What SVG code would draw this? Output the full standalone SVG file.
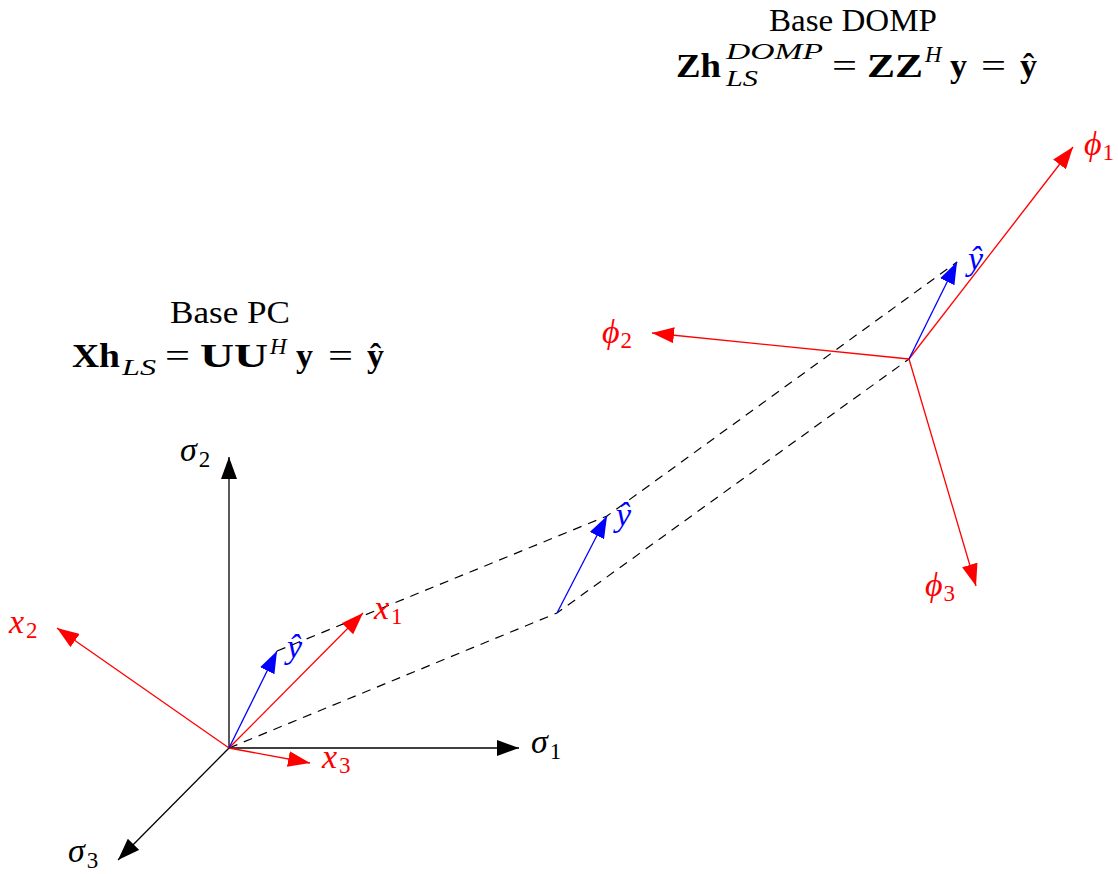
<svg xmlns="http://www.w3.org/2000/svg" width="1118" height="874" viewBox="0 0 1118 874">
<defs>
<style>
.t{font-family:"Liberation Serif","DejaVu Serif",serif;font-size:31px}
.e{font-family:"Liberation Serif","DejaVu Serif",serif;font-size:34px}
.b{font-family:"Liberation Serif","DejaVu Serif",serif;font-size:34px;font-weight:bold}
.i{font-family:"Liberation Serif","DejaVu Serif",serif;font-size:34px;font-style:italic}
.s{font-size:23px;font-style:normal}
.si{font-family:"Liberation Serif","DejaVu Serif",serif;font-size:23px;font-style:italic}
.k{stroke:#000;stroke-width:1.3;fill:none}
.r{stroke:#ff0000;stroke-width:1.3;fill:none}
.u{stroke:#0000ff;stroke-width:1.3;fill:none}
.d{stroke:#000;stroke-width:1.2;fill:none;stroke-dasharray:9 7}
.red{fill:#ff0000}
.blue{fill:#0000ff}
</style>
<marker id="ak" markerUnits="userSpaceOnUse" markerWidth="22" markerHeight="16" refX="22" refY="8" orient="auto"><path d="M0,0 L22,8 L0,16z" fill="#000"/></marker>
<marker id="ar" markerUnits="userSpaceOnUse" markerWidth="22" markerHeight="16" refX="22" refY="8" orient="auto"><path d="M0,0 L22,8 L0,16z" fill="#ff0000"/></marker>
<marker id="au" markerUnits="userSpaceOnUse" markerWidth="22" markerHeight="16" refX="22" refY="8" orient="auto"><path d="M0,0 L22,8 L0,16z" fill="#0000ff"/></marker>
</defs>
<rect width="1118" height="874" fill="#fff"/>

<g id="connectors">
<polyline class="d" points="277,651 607,516 957,262"/>
<polyline class="d" points="229,748 557,613 909,359"/>
</g>

<g id="pc-frame">
<line class="k" x1="229" y1="748" x2="519" y2="748" marker-end="url(#ak)"/>
<line class="k" x1="229" y1="748" x2="229" y2="457" marker-end="url(#ak)"/>
<line class="k" x1="229" y1="748" x2="118" y2="860" marker-end="url(#ak)"/>
<line class="r" x1="229" y1="748" x2="363" y2="613" marker-end="url(#ar)"/>
<line class="r" x1="229" y1="748" x2="57" y2="628" marker-end="url(#ar)"/>
<line class="r" x1="229" y1="748" x2="310" y2="763" marker-end="url(#ar)"/>
<line class="u" x1="229" y1="748" x2="277" y2="651" marker-end="url(#au)"/>
<text class="i" x="531" y="753">σ<tspan class="s" dx="2" dy="6">1</tspan></text>
<text class="i" x="180" y="461">σ<tspan class="s" dx="2" dy="6">2</tspan></text>
<text class="i" x="68" y="862">σ<tspan class="s" dx="2" dy="6">3</tspan></text>
<text class="i red" x="374" y="619">x<tspan class="s" dx="2" dy="5">1</tspan></text>
<text class="i red" x="9" y="633">x<tspan class="s" dx="2" dy="5">2</tspan></text>
<text class="i red" x="322" y="768">x<tspan class="s" dx="2" dy="5">3</tspan></text>
<text class="i blue" x="287" y="658">ŷ</text>
</g>

<g id="mid-yhat">
<line class="u" x1="557" y1="613" x2="607" y2="516" marker-end="url(#au)"/>
<text class="i blue" x="616" y="526">ŷ</text>
</g>

<g id="domp-frame">
<line class="r" x1="909" y1="359" x2="1073" y2="147" marker-end="url(#ar)"/>
<line class="r" x1="909" y1="359" x2="652" y2="333" marker-end="url(#ar)"/>
<line class="r" x1="909" y1="359" x2="976" y2="586" marker-end="url(#ar)"/>
<line class="u" x1="909" y1="359" x2="957" y2="262" marker-end="url(#au)"/>
<text class="i red" x="1084" y="155">ϕ<tspan class="s" dx="1" dy="5">1</tspan></text>
<text class="i red" x="602" y="343">ϕ<tspan class="s" dx="1" dy="5">2</tspan></text>
<text class="i red" x="925" y="596">ϕ<tspan class="s" dx="1" dy="5">3</tspan></text>
<text class="i blue" x="968" y="270">ŷ</text>
</g>

<g id="title-pc">
<text class="t" x="170" y="323" textLength="120" lengthAdjust="spacingAndGlyphs">Base PC</text>
<text class="b" x="72" y="367" textLength="48" lengthAdjust="spacingAndGlyphs">Xh</text>
<text class="si" x="122" y="375" textLength="34" lengthAdjust="spacingAndGlyphs">LS</text>
<text class="e" x="165" y="367" textLength="25" lengthAdjust="spacingAndGlyphs">=</text>
<text class="b" x="200" y="367" textLength="68" lengthAdjust="spacingAndGlyphs">UU</text>
<text class="si" x="270" y="354">H</text>
<text class="b" x="296" y="367">y</text>
<text class="e" x="328" y="367" textLength="25" lengthAdjust="spacingAndGlyphs">=</text>
<text class="b" x="367" y="367">ŷ</text>
</g>

<g id="title-domp">
<text class="t" x="769" y="31" textLength="168" lengthAdjust="spacingAndGlyphs">Base DOMP</text>
<text class="b" x="676" y="77" textLength="45" lengthAdjust="spacingAndGlyphs">Zh</text>
<text class="si" x="726" y="59" textLength="97" lengthAdjust="spacingAndGlyphs">DOMP</text>
<text class="si" x="726" y="86" textLength="32" lengthAdjust="spacingAndGlyphs">LS</text>
<text class="e" x="832" y="77" textLength="25" lengthAdjust="spacingAndGlyphs">=</text>
<text class="b" x="867" y="77" textLength="56" lengthAdjust="spacingAndGlyphs">ZZ</text>
<text class="si" x="925" y="62">H</text>
<text class="b" x="950" y="77">y</text>
<text class="e" x="981" y="77" textLength="25" lengthAdjust="spacingAndGlyphs">=</text>
<text class="b" x="1020" y="77">ŷ</text>
</g>
</svg>
